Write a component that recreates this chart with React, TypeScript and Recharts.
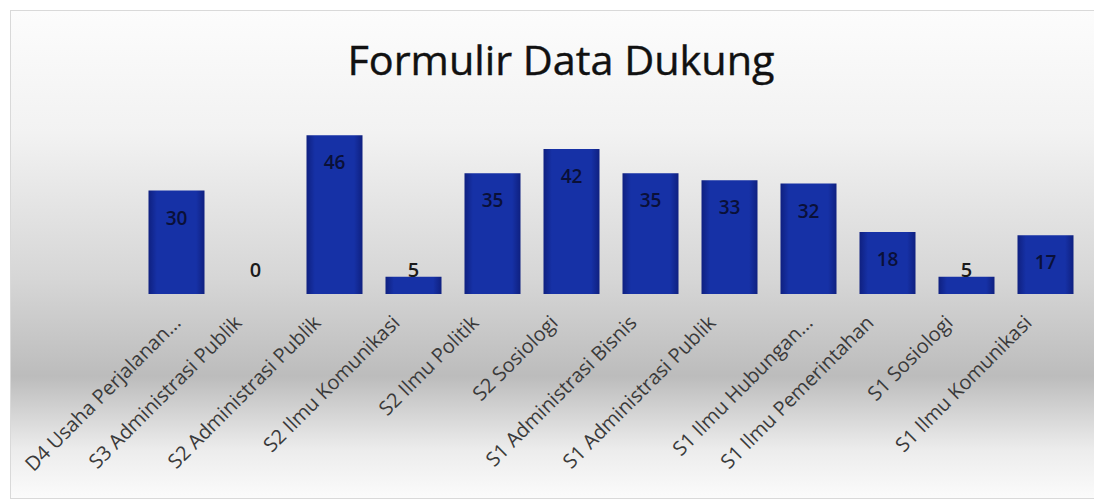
import React from "react";
import { Bar, BarChart, LabelList, XAxis, YAxis } from "recharts";

const categories = [
  "D4 Usaha Perjalanan...",
  "S3 Administrasi Publik",
  "S2 Administrasi Publik",
  "S2 Ilmu Komunikasi",
  "S2 Ilmu Politik",
  "S2 Sosiologi",
  "S1 Administrasi Bisnis",
  "S1 Administrasi Publik",
  "S1 Ilmu Hubungan...",
  "S1 Ilmu Pemerintahan",
  "S1 Sosiologi",
  "S1 Ilmu Komunikasi",
];
const counts = [30, 0, 46, 5, 35, 42, 35, 33, 32, 18, 5, 17];

const data = categories.map((name, i) => ({ name, value: counts[i] }));

const FONT = "'Open Sans', 'Noto Sans', sans-serif";

// rotated category label, text ends just under the bar
// (truncated names sit a little further right, like in Excel)
const Tick = (props: any) => {
  const { x, y, payload } = props;
  const cut = String(payload.value).endsWith("...");
  const ax = x - 12 + (cut ? 18 : 0);
  const ay = y + 22;
  return (
    <text
      x={ax}
      y={ay}
      transform={`rotate(-45 ${ax} ${ay})`}
      textAnchor="end"
      fontSize={20}
      fontFamily={FONT}
      fill="#3a3a3a"
    >
      {payload.value}
    </text>
  );
};

// big bars get the number inside the top, small ones sit above
const ValueLabel = (props: any) => {
  const { x, y, width, height, value } = props;
  const cx = x + width / 2;
  const base = y + height;
  if (value < 10) {
    return (
      <text
        x={cx}
        y={Math.min(y, base - 17)}
        textAnchor="middle"
        fontSize={20}
        fontWeight={600}
        fontFamily={FONT}
        fill="#1a1a1a"
      >
        {value}
      </text>
    );
  }
  return (
    <text
      x={cx}
      y={y + 34}
      textAnchor="middle"
      fontSize={19}
      fontWeight={600}
      fontFamily={FONT}
      fill="#0a1038"
    >
      {value}
    </text>
  );
};

export default function App() {
  return (
    <div
      style={{
        position: "relative",
        marginLeft: 2,
        marginTop: 2,
        width: 1089,
        height: 489,
        boxSizing: "border-box",
        border: "1px solid #d9d9d9",
        background:
          "linear-gradient(to bottom, #fcfcfc 0%, #f2f2f2 25%, #d6d6d6 55%, #bcbcbc 75%, #ececec 90%, #fbfbfb 100%)",
      }}
    >
      <svg
        width={1087}
        height={100}
        style={{ position: "absolute", left: 0, top: 0 }}
      >
        <text
          x={550}
          y={64}
          textAnchor="middle"
          fontSize={40}
          fontFamily={FONT}
          fill="#111111"
          stroke="#111111"
          strokeWidth={0.4}
          textLength={427}
          lengthAdjust="spacingAndGlyphs"
        >
          Formulir Data Dukung
        </text>
      </svg>
      <BarChart
        width={1087}
        height={487}
        data={data}
        margin={{ top: 110.5, right: 13.5, left: 125.5, bottom: 4 }}
        style={{ position: "absolute", left: 0, top: 0 }}
      >
        <defs>
          <linearGradient id="barFill" x1="0" y1="0" x2="1" y2="0">
            <stop offset="0%" stopColor="#0f2080" />
            <stop offset="15%" stopColor="#1631a6" />
            <stop offset="85%" stopColor="#1631a6" />
            <stop offset="100%" stopColor="#0f2080" />
          </linearGradient>
        </defs>
        <XAxis
          dataKey="name"
          interval={0}
          height={200}
          axisLine={false}
          tickLine={false}
          tick={<Tick />}
        />
        <YAxis hide domain={[0, 50]} />
        <Bar
          dataKey="value"
          fill="url(#barFill)"
          barSize={56}
          minPointSize={0.01}
          isAnimationActive={false}
        >
          <LabelList dataKey="value" content={<ValueLabel />} />
        </Bar>
      </BarChart>
    </div>
  );
}
